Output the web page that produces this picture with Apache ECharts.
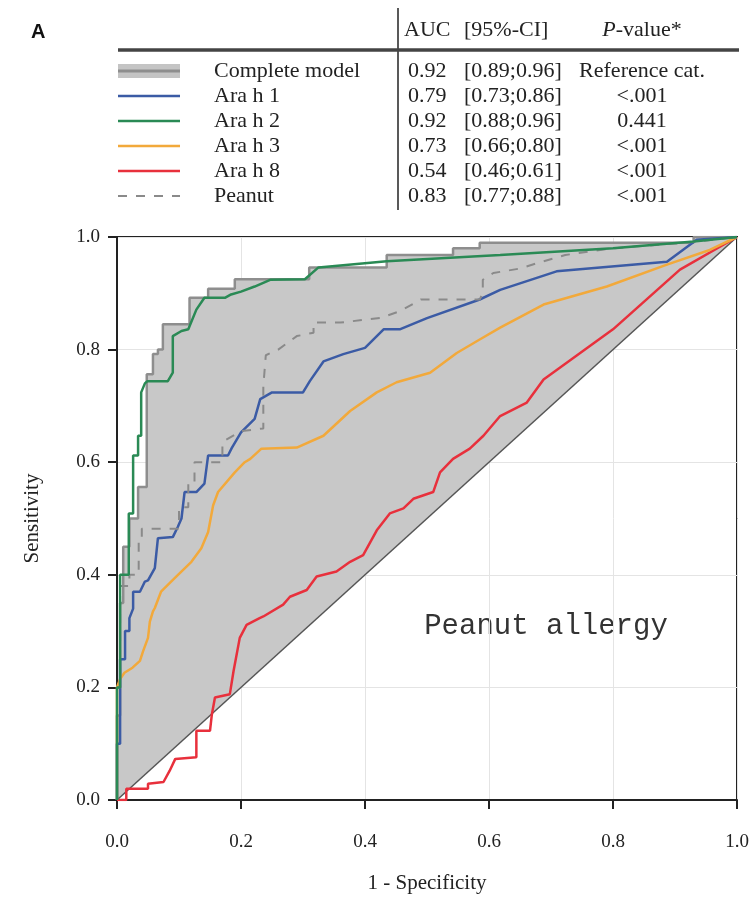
<!DOCTYPE html>
<html>
<head>
<meta charset="utf-8">
<script src="https://cdn.jsdelivr.net/npm/echarts@6/dist/echarts.min.js"></script>
<style>html,body{margin:0;padding:0;background:#fff}#c{width:756px;height:899px}</style>
</head>
<body>
<div id="c"></div>
<script>
// ---------- data ----------
const seriesNames = ['Complete model', 'Ara h 1', 'Ara h 2', 'Ara h 3', 'Ara h 8', 'Peanut'];
const aucValues = ['0.92', '0.79', '0.92', '0.73', '0.54', '0.83'];
const ciValues = ['[0.89;0.96]', '[0.73;0.86]', '[0.88;0.96]', '[0.66;0.80]', '[0.46;0.61]', '[0.77;0.88]'];
const pValues = ['Reference cat.', '<.001', '0.441', '<.001', '<.001', '<.001'];
const tableHeader = ['AUC', '[95%-CI]', '{i|P}-value*'];
const axisTicks = [0, 0.2, 0.4, 0.6, 0.8, 1.0];
const panelLabel = 'A';
const annotation = 'Peanut allergy';

const completeModel = [[0,0],[0,0.15],[0.005,0.15],[0.005,0.35],[0.01,0.35],[0.01,0.45],[0.02,0.45],[0.02,0.5],[0.034,0.5],[0.034,0.556],[0.048,0.556],[0.048,0.756],[0.058,0.756],[0.058,0.792],[0.066,0.792],[0.066,0.8],[0.074,0.8],[0.074,0.845],[0.117,0.845],[0.117,0.892],[0.147,0.892],[0.147,0.908],[0.19,0.908],[0.19,0.925],[0.31,0.925],[0.31,0.946],[0.435,0.946],[0.435,0.968],[0.542,0.968],[0.542,0.98],[0.585,0.98],[0.585,0.99],[0.93,0.99],[0.93,1],[1,1]];
const diagonal = [[0,0],[1,1]];
const araH1 = [[0,0],[0,0.1],[0.005,0.1],[0.005,0.25],[0.013,0.25],[0.013,0.3],[0.02,0.3],[0.02,0.323],[0.026,0.34],[0.026,0.37],[0.037,0.37],[0.045,0.388],[0.05,0.39],[0.061,0.412],[0.066,0.465],[0.09,0.467],[0.098,0.485],[0.104,0.5],[0.109,0.547],[0.128,0.547],[0.141,0.562],[0.147,0.612],[0.179,0.612],[0.185,0.625],[0.2,0.653],[0.222,0.677],[0.231,0.712],[0.25,0.724],[0.3,0.724],[0.311,0.744],[0.333,0.779],[0.365,0.792],[0.4,0.803],[0.43,0.836],[0.456,0.836],[0.5,0.856],[0.585,0.889],[0.618,0.906],[0.709,0.939],[0.887,0.956],[0.935,0.995],[1,1]];
const araH2 = [[0,0],[0,0.2],[0.005,0.2],[0.005,0.4],[0.019,0.4],[0.019,0.509],[0.026,0.509],[0.026,0.612],[0.034,0.612],[0.034,0.647],[0.039,0.647],[0.039,0.724],[0.045,0.74],[0.049,0.744],[0.082,0.744],[0.09,0.759],[0.09,0.824],[0.104,0.833],[0.115,0.836],[0.128,0.871],[0.141,0.892],[0.174,0.892],[0.184,0.898],[0.2,0.903],[0.222,0.912],[0.247,0.924],[0.303,0.925],[0.325,0.946],[0.435,0.957],[0.618,0.968],[0.8,0.98],[0.93,0.992],[1,1]];
const araH3 = [[0,0],[0,0.2],[0.005,0.215],[0.012,0.226],[0.025,0.235],[0.037,0.247],[0.042,0.264],[0.05,0.288],[0.053,0.317],[0.058,0.335],[0.061,0.341],[0.071,0.37],[0.093,0.394],[0.12,0.423],[0.136,0.447],[0.147,0.476],[0.155,0.523],[0.163,0.547],[0.19,0.582],[0.206,0.6],[0.215,0.606],[0.233,0.624],[0.29,0.626],[0.333,0.647],[0.376,0.691],[0.419,0.724],[0.451,0.742],[0.505,0.759],[0.548,0.794],[0.585,0.818],[0.618,0.839],[0.688,0.88],[0.79,0.912],[0.887,0.951],[0.956,0.977],[1,1]];
const araH8 = [[0,0],[0.015,0],[0.015,0.02],[0.05,0.02],[0.05,0.029],[0.075,0.032],[0.085,0.052],[0.094,0.073],[0.128,0.076],[0.128,0.123],[0.15,0.123],[0.153,0.152],[0.158,0.182],[0.182,0.188],[0.188,0.229],[0.198,0.288],[0.209,0.311],[0.23,0.323],[0.236,0.326],[0.268,0.347],[0.279,0.361],[0.306,0.373],[0.322,0.397],[0.354,0.406],[0.376,0.423],[0.397,0.435],[0.419,0.479],[0.44,0.509],[0.462,0.518],[0.478,0.535],[0.51,0.547],[0.521,0.582],[0.542,0.606],[0.569,0.624],[0.591,0.647],[0.618,0.682],[0.661,0.706],[0.688,0.747],[0.8,0.836],[0.908,0.942],[1,1]];
const peanut = [[0,0],[0,0.2],[0.005,0.2],[0.005,0.38],[0.02,0.38],[0.02,0.4],[0.035,0.4],[0.035,0.465],[0.04,0.465],[0.04,0.482],[0.1,0.482],[0.1,0.52],[0.115,0.52],[0.115,0.565],[0.125,0.565],[0.125,0.6],[0.17,0.6],[0.17,0.636],[0.2,0.655],[0.236,0.66],[0.236,0.735],[0.24,0.79],[0.26,0.8],[0.29,0.824],[0.317,0.83],[0.317,0.848],[0.36,0.848],[0.424,0.856],[0.456,0.868],[0.49,0.889],[0.585,0.889],[0.59,0.9],[0.59,0.924],[0.607,0.936],[0.65,0.944],[0.685,0.956],[0.723,0.968],[0.8,0.98],[0.92,0.99],[1,1]];

// ---------- styles ----------
const SERIF = '"Liberation Serif", "Times New Roman", serif';
const colors = {band:'#c8c8c8', model:'#8e8e8e', a1:'#3b5ba5', a2:'#2a8a55', a3:'#f2a93b', a8:'#e8303c', pn:'#8a8a8a'};
const swatch = [
  {color: colors.model, width: 3, band: true},
  {color: colors.a1, width: 2.5},
  {color: colors.a2, width: 2.5},
  {color: colors.a3, width: 2.5},
  {color: colors.a8, width: 2.5},
  {color: colors.pn, width: 2, dash: [9, 9]}
];

// ---------- table graphics ----------
const rowY = [71, 96, 121, 146, 171, 196];
const FSIZE = 22;
const FONT = FSIZE + 'px ' + SERIF;
const g = [];
g.push({type:'text', left: 31, top: 22, style:{text: panelLabel, font: 'bold 20px "Liberation Sans", Arial, sans-serif', fill:'#111'}});
g.push({type:'line', shape:{x1:398, y1:8, x2:398, y2:210}, style:{stroke:'#222', lineWidth:1.5}});
g.push({type:'line', shape:{x1:118, y1:50, x2:739, y2:50}, style:{stroke:'#444', lineWidth:3.5}});
const headX = [404, 464, 642];
tableHeader.forEach((t, i) => {
  g.push({type:'text', x: headX[i], y: 30, style:{text:t, font: FONT, fill:'#222', textVerticalAlign:'middle', textAlign: i === 2 ? 'center' : 'left', rich:{i:{fontStyle:'italic', fontFamily: SERIF, fontSize: FSIZE, fill:'#222'}}}});
});
seriesNames.forEach((n, i) => {
  const y = rowY[i];
  const s = swatch[i];
  if (s.band) {
    g.push({type:'rect', shape:{x:118, y:y-7, width:62, height:14}, style:{fill:'#c4c4c4'}});
  }
  g.push({type:'line', shape:{x1:118, y1:y, x2:180, y2:y}, style:{stroke:s.color, lineWidth:s.width, lineDash: s.dash || null}});
  g.push({type:'text', x:214, y:y, style:{text:n, font: FONT, fill:'#222', textVerticalAlign:'middle'}});
  g.push({type:'text', x:408, y:y, style:{text:aucValues[i], font: FONT, fill:'#222', textVerticalAlign:'middle'}});
  g.push({type:'text', x:464, y:y, style:{text:ciValues[i], font: FONT, fill:'#222', textVerticalAlign:'middle'}});
  g.push({type:'text', x:642, y:y, style:{text:pValues[i], font: FONT, fill:'#222', textVerticalAlign:'middle', textAlign:'center'}});
});
g.push({type:'text', x:546, y:626, style:{text: annotation, font:'29px "Liberation Mono", "Courier New", monospace', fill:'#333', textAlign:'center', textVerticalAlign:'middle'}});

// ---------- chart ----------
const chart = echarts.init(document.getElementById('c'), null, {renderer:'canvas'});
const axisCommon = {
  type:'value', min: axisTicks[0], max: axisTicks[axisTicks.length-1], interval: 0.2,
  axisLine:{show:true, lineStyle:{color:'#222', width:2}},
  axisTick:{show:true, inside:false, length:9, lineStyle:{color:'#222', width:2}},
  splitLine:{show:true, lineStyle:{color:'#e4e4e4', width:1}},
  axisLabel:{color:'#222', fontFamily: SERIF, fontSize:19, formatter: v => v.toFixed(1)},
  nameTextStyle:{color:'#222', fontFamily: SERIF, fontSize:21},
  nameLocation:'middle'
};
const lineSeries = (name, data, color, width, type, z) => ({
  name, type:'line', data, showSymbol:false, symbol:'none', z: z || 3,
  lineStyle:{color, width, type: type || 'solid'}, emphasis:{disabled:true}, silent:true
});
chart.setOption({
  animation:false,
  backgroundColor:'#fff',
  grid:{left:117, right:19, top:237, bottom:96, show:true, borderColor:'#222', borderWidth:2, backgroundColor:'transparent'},
  xAxis: Object.assign({}, axisCommon, {name:'1 - Specificity', nameGap: 73, axisLabel: Object.assign({}, axisCommon.axisLabel, {margin: 33})}),
  yAxis: Object.assign({}, axisCommon, {name:'Sensitivity', nameGap: 74, axisLabel: Object.assign({}, axisCommon.axisLabel, {margin: 17})}),
  graphic: g,
  series: [
    {
      name:'Complete model band', type:'custom', coordinateSystem:'cartesian2d', data: completeModel,
      encode:{x:0, y:1}, silent:true, z:1, clip:true,
      renderItem: (params, api) => {
        if (params.dataIndex !== 0) return null;
        const pts = completeModel.map(p => api.coord(p)).concat(diagonal.slice().reverse().map(p => api.coord(p)));
        return {type:'polygon', shape:{points: pts}, style:{fill: colors.band, stroke: null}};
      }
    },
    lineSeries('Complete model', completeModel, colors.model, 2.5, 'solid', 2),
    lineSeries('Diagonal', diagonal, '#555', 1.5, 'solid', 2),
    lineSeries('Ara h 8', araH8, colors.a8, 2.5),
    lineSeries('Ara h 3', araH3, colors.a3, 2.5),
    lineSeries('Ara h 1', araH1, colors.a1, 2.5),
    lineSeries('Peanut', peanut, colors.pn, 2, [9, 9]),
    lineSeries('Ara h 2', araH2, colors.a2, 2.5)
  ]
});
</script>
</body>
</html>
